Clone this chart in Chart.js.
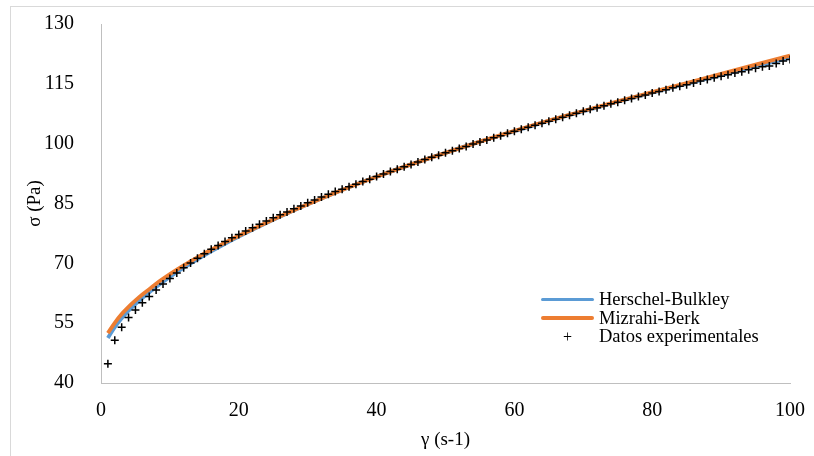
<!DOCTYPE html>
<html>
<head>
<meta charset="utf-8">
<script src="https://cdn.jsdelivr.net/npm/chart.js@4.4.0/dist/chart.umd.min.js"></script>
<style>
  html, body { margin: 0; padding: 0; background: #fff; }
  #wrap { position: relative; width: 814px; height: 456px; overflow: hidden; }
  #frame { position: absolute; left: 10px; top: 6px; right: 0; bottom: 0;
           border-top: 1px solid #d9d9d9; border-left: 1px solid #d9d9d9; }
  canvas { position: absolute; left: 0; top: 0; }
  #legend { position: absolute; left: 541px; top: 290px;
            font-family: "Liberation Serif", serif; font-size: 18.5px; color: #000; }
  .row { display: flex; align-items: center; height: 18.7px; white-space: nowrap; }
  .key { width: 53px; margin-right: 5px; display: flex; align-items: center; justify-content: center; }
  .line { width: 53px; height: 3.5px; border-radius: 2px; }
  .plus { font-size: 16px; line-height: 16px; }
</style>
</head>
<body>
<div id="wrap">
  <div id="frame"></div>
  <canvas id="chart" width="814" height="456"></canvas>
  <div id="legend"></div>
</div>
<script>
// shear rate of the measured points
const gammaData = [1, 2, 3, 4, 5, 6, 7, 8, 9, 10,
  11, 12, 13, 14, 15, 16, 17, 18, 19, 20,
  21, 22, 23, 24, 25, 26, 27, 28, 29, 30,
  31, 32, 33, 34, 35, 36, 37, 38, 39, 40,
  41, 42, 43, 44, 45, 46, 47, 48, 49, 50,
  51, 52, 53, 54, 55, 56, 57, 58, 59, 60,
  61, 62, 63, 64, 65, 66, 67, 68, 69, 70,
  71, 72, 73, 74, 75, 76, 77, 78, 79, 80,
  81, 82, 83, 84, 85, 86, 87, 88, 89, 90,
  91, 92, 93, 94, 95, 96, 97, 98, 99, 100];

// Datos experimentales (Pa)
const sigmaData = [44.8, 50.7, 54.0, 56.4, 58.3, 60.1, 61.7, 63.3, 64.8, 66.2,
  67.6, 68.9, 70.1, 71.3, 72.4, 73.5, 74.5, 75.5, 76.4, 77.2,
  78.1, 78.9, 79.8, 80.6, 81.4, 82.2, 82.9, 83.7, 84.4, 85.2,
  85.9, 86.6, 87.3, 88.0, 88.6, 89.2, 89.8, 90.5, 91.1, 91.8,
  92.4, 93.0, 93.6, 94.2, 94.8, 95.4, 96.0, 96.6, 97.1, 97.7,
  98.2, 98.8, 99.3, 99.9, 100.4, 100.9, 101.5, 102.0, 102.6, 103.1,
  103.6, 104.1, 104.6, 105.1, 105.6, 106.1, 106.6, 107.1, 107.6, 108.1,
  108.6, 109.0, 109.5, 110.0, 110.4, 110.9, 111.3, 111.8, 112.2, 112.7,
  113.1, 113.5, 114.0, 114.4, 114.8, 115.2, 115.7, 116.1, 116.5, 116.9,
  117.3, 117.7, 118.0, 118.5, 118.9, 119.3, 119.5, 120.1, 120.7, 121.1];

// model curves
const gammaModel = [1, 2, 3, 4, 5, 6, 7, 8, 10, 12, 14, 16, 18, 20, 25, 30, 35, 40, 45, 50,
  55, 60, 65, 70, 75, 80, 85, 90, 95, 100];
const herschelBulkley = [51.3, 54.0, 56.2, 58.1, 59.8, 61.3, 62.7, 64.1, 66.6, 68.9,
  71.0, 73.0, 74.9, 76.7, 80.9, 84.8, 88.4, 91.7, 94.8, 97.7,
  100.5, 103.1, 105.7, 108.1, 110.5, 112.8, 115.0, 117.2, 119.4, 121.5];
const mizrahiBerk = [52.5, 55.1, 57.3, 59.1, 60.7, 62.2, 63.5, 64.9, 67.3, 69.5,
  71.5, 73.4, 75.2, 76.9, 81.0, 84.8, 88.4, 91.7, 94.8, 97.7,
  100.5, 103.2, 105.8, 108.2, 110.6, 112.9, 115.2, 117.5, 119.8, 122.1];

const seriesNames = ["Herschel-Bulkley", "Mizrahi-Berk", "Datos experimentales"];
const xTitle = "γ (s-1)";
const yTitle = "σ (Pa)";

const toPoints = (xs, ys) => xs.map((x, i) => ({ x: x, y: ys[i] }));

const serif = "'Liberation Serif', 'Times New Roman', serif";

const chart = new Chart(document.getElementById("chart"), {
  type: "scatter",
  data: {
    datasets: [
      {
        label: seriesNames[0],
        data: toPoints(gammaModel, herschelBulkley),
        showLine: true,
        borderColor: "#5B9BD5",
        backgroundColor: "#5B9BD5",
        borderWidth: 3.8,
        pointRadius: 0,
        cubicInterpolationMode: "monotone",
        order: 2,
      },
      {
        label: seriesNames[1],
        data: toPoints(gammaModel, mizrahiBerk),
        showLine: true,
        borderColor: "#ED7D31",
        backgroundColor: "#ED7D31",
        borderWidth: 3.8,
        pointRadius: 0,
        cubicInterpolationMode: "monotone",
        order: 1,
      },
      {
        label: seriesNames[2],
        data: toPoints(gammaData, sigmaData),
        showLine: false,
        pointStyle: "cross",
        pointRadius: 4,
        borderColor: "#000",
        borderWidth: 1.5,
        order: 0,
      },
    ],
  },
  options: {
    responsive: false,
    animation: false,
    devicePixelRatio: 1,
    layout: { padding: { left: 0, right: 24, top: 24, bottom: 0 } },
    plugins: { legend: { display: false }, tooltip: { enabled: false } },
    scales: {
      x: {
        type: "linear",
        min: 0,
        max: 100,
        ticks: { stepSize: 20, padding: 8, color: "#000", font: { family: serif, size: 20 } },
        grid: { display: false },
        border: { display: true, color: "#bfbfbf", width: 1 },
        title: { display: true, text: xTitle, color: "#000", font: { family: serif, size: 19 },
                 padding: { top: 0, bottom: 5 } },
        afterFit: (scale) => {
          scale.height = 73;
          scale.paddingLeft = 0;
          scale.paddingRight = 0;
        },
      },
      y: {
        min: 40,
        max: 130,
        ticks: { stepSize: 15, padding: 19, color: "#000", font: { family: serif, size: 20 } },
        grid: { display: false },
        border: { display: true, color: "#bfbfbf", width: 1 },
        title: { display: true, text: yTitle, color: "#000", font: { family: serif, size: 19 },
                 padding: { top: 24, bottom: 0 } },
        afterFit: (scale) => {
          scale.width = 101;
          scale.paddingTop = 0;
          scale.paddingBottom = 0;
        },
      },
    },
  },
});

// legend inside the plot, as in the original
const legend = document.getElementById("legend");
chart.data.datasets.forEach((ds) => {
  const row = document.createElement("div");
  row.className = "row";
  const key = document.createElement("div");
  key.className = "key";
  if (ds.showLine) {
    const line = document.createElement("div");
    line.className = "line";
    line.style.background = ds.borderColor;
    key.appendChild(line);
  } else {
    const plus = document.createElement("span");
    plus.className = "plus";
    plus.textContent = "+";
    key.appendChild(plus);
  }
  const text = document.createElement("span");
  text.textContent = ds.label;
  row.appendChild(key);
  row.appendChild(text);
  legend.appendChild(row);
});
</script>
</body>
</html>
